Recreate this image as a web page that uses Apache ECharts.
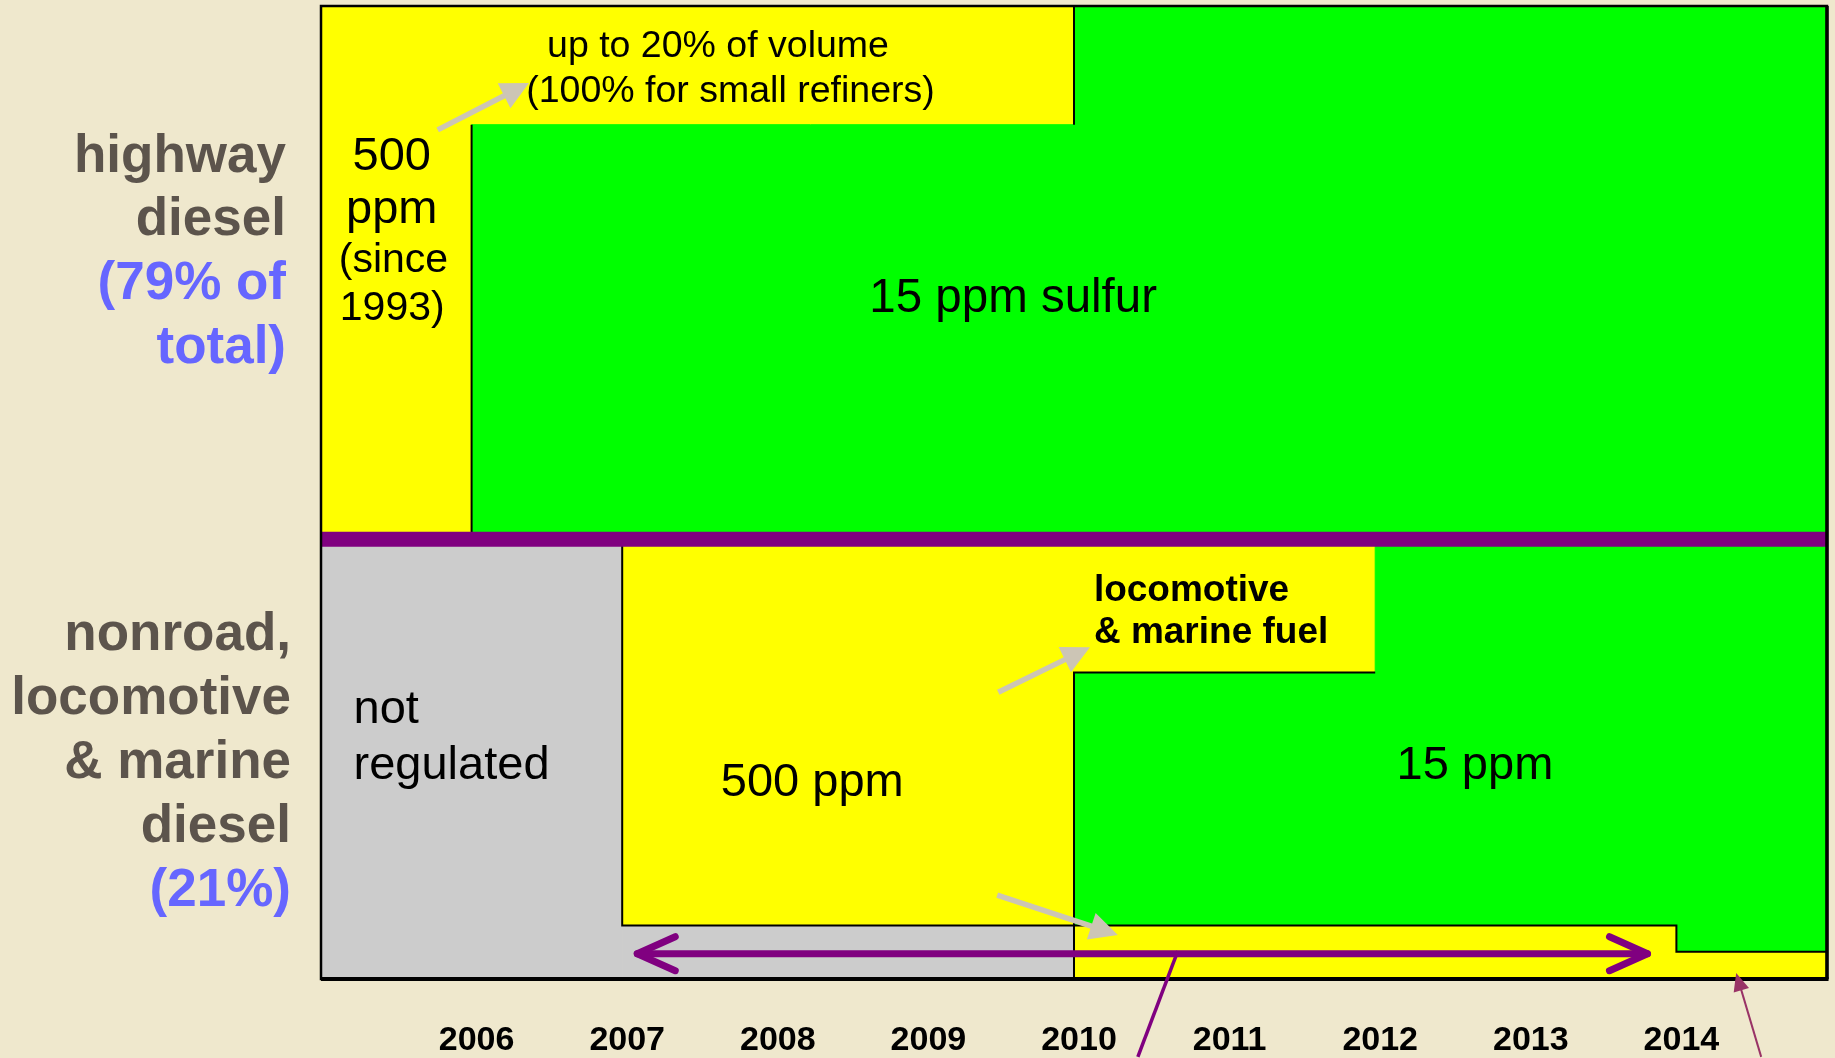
<!DOCTYPE html>
<html><head><meta charset="utf-8">
<script src="https://cdn.jsdelivr.net/npm/echarts@6/dist/echarts.min.js"></script>
<style>html,body{margin:0;padding:0;background:#efe8cd;} #c{width:1835px;height:1058px;}</style>
</head><body><div id="c"></div>
<script>
// ================= DATA =================
// Year tick labels (each label sits on the start of that year)
const yearTicks = [2006, 2007, 2008, 2009, 2010, 2011, 2012, 2013, 2014];
const xRange = [2005, 2015];

// Vertical axis is a schematic 0 (bottom) .. 100 (top) scale; split between the two fuel lanes
const laneSplit = 45.2;
const highwayLines = ['highway', 'diesel'];
const highwayShare = ['(79% of', 'total)'];
const nonroadLines = ['nonroad,', 'locomotive', '& marine', 'diesel'];
const nonroadShare = ['(21%)'];

// Sulfur-limit blocks: level, start year, end year, low, high
const blockLevel = ['500', '500', '15', '15', 'none', 'none', '500', '500', '15', '15', '15', '500', '500'];
const blockFrom  = [2005, 2006, 2006, 2010, 2005, 2007, 2007, 2010, 2010, 2014, 2012, 2010, 2014];
const blockTo    = [2006, 2010, 2015, 2015, 2007, 2010, 2010, 2012, 2014, 2015, 2015, 2014, 2015];
const blockLow   = [45.2, 87.8, 45.2, 87.8, 0, 0, 5.5, 31.5, 5.5, 2.8, 31.5, 0, 0];
const blockHigh  = [100, 100, 87.8, 100, 45.2, 5.5, 45.2, 45.2, 31.5, 31.5, 45.2, 5.5, 2.8];

// Black boundary lines between regimes
const outlineX = [[2006, 2006], [2010, 2010], [2007, 2007, 2014, 2014, 2015], [2010, 2010, 2012]];
const outlineY = [[45.2, 87.8], [87.8, 100], [45.2, 5.5, 5.5, 2.8, 2.8], [0, 31.5, 31.5]];

// Pointer arrows (from -> to), in axis units
const pointerFrom = [[2005.775, 87.27], [2009.497, 29.47], [2009.490, 8.62]];
const pointerTo   = [[2006.381, 92.09], [2010.106, 34.09], [2010.291, 4.52]];
const spanArrow   = [[2007.10, 2.6], [2013.808, 2.6]];
const calloutLine = [[2010.689, 2.87], [2010.424, -8]];
const calloutArrow = [[2014.563, -8], [2014.397, 0.62]];

// Annotation texts (x, baseline y in axis units)
const noteText = ['up to 20% of volume', '(100% for small refiners)', '500', 'ppm', '(since', '1993)',
  '15 ppm sulfur', 'locomotive', '& marine fuel', 'not', 'regulated', '500 ppm', '15 ppm'];
const noteX = [2007.636, 2007.719, 2005.470, 2005.470, 2005.481, 2005.473,
  2009.596, 2010.132, 2010.132, 2005.216, 2005.216, 2008.262, 2012.662];
const noteY = [94.76, 90.14, 83.16, 77.72, 72.69, 67.76,
  68.58, 38.81, 34.5, 26.28, 20.53, 18.79, 20.53];

// ================= STYLE =================
const FONT = '"Liberation Sans", Arial, sans-serif';
const levelColor = { '500': '#ffff00', '15': '#00ff00', 'none': '#cccccc' };
const noteSize = [37.5, 37.5, 47, 47, 41, 41, 47.5, 37, 37, 47, 47, 47, 47];
const noteBold = [0, 0, 0, 0, 0, 0, 0, 1, 1, 0, 0, 0, 0];
const noteAlign = ['center', 'center', 'center', 'center', 'center', 'center',
  'center', 'left', 'left', 'left', 'left', 'center', 'center'];
const K = 0.28; // baseline -> middle offset (fraction of font size)

function head(tip, from, len, half) {
  const dx = tip[0] - from[0], dy = tip[1] - from[1];
  const d = Math.hypot(dx, dy), ux = dx / d, uy = dy / d;
  const bx = tip[0] - ux * len, by = tip[1] - uy * len;
  return [[tip[0], tip[1]], [bx - uy * half, by + ux * half], [bx + uy * half, by - ux * half]];
}
function chevron(tip, from, len, half) {
  const dx = tip[0] - from[0], dy = tip[1] - from[1];
  const d = Math.hypot(dx, dy), ux = dx / d, uy = dy / d;
  const bx = tip[0] - ux * len, by = tip[1] - uy * len;
  return [[bx - uy * half, by + ux * half], [tip[0], tip[1]], [bx + uy * half, by - ux * half]];
}

const chart = echarts.init(document.getElementById('c'), null, { renderer: 'canvas' });

const laneText = [];
function addLane(lines, shareLines, right, firstBaseline, step) {
  const all = lines.concat(shareLines);
  all.forEach((t, i) => {
    laneText.push({
      type: 'text', x: right, y: firstBaseline + i * step - K * 53,
      style: {
        text: t, font: 'bold 53px ' + FONT, fill: i < lines.length ? '#5c544c' : '#6666ff',
        textAlign: 'right', textVerticalAlign: 'middle', align: 'right', verticalAlign: 'middle'
      }
    });
  });
}
addLane(highwayLines, highwayShare, 286, 172, 63.7);
addLane(nonroadLines, nonroadShare, 291, 650, 64);

const option = {
  backgroundColor: '#efe8cd',
  animation: false,
  grid: { left: 321, right: 4, top: 6, bottom: 78, show: false },
  xAxis: {
    type: 'value', min: xRange[0], max: xRange[1], interval: 1,
    axisLine: { show: false }, axisTick: { show: false }, splitLine: { show: false },
    axisLabel: {
      margin: 45, fontSize: 34, lineHeight: 34, fontWeight: 'bold', color: '#000', fontFamily: FONT,
      padding: [0, 0, 0, 10],
      formatter: v => yearTicks.indexOf(v) >= 0 ? String(v) : ''
    }
  },
  yAxis: { type: 'value', min: 0, max: 100, show: false },
  graphic: laneText,
  series: [
    {
      type: 'custom', z: 1, clip: false,
      data: blockFrom.map((f, i) => [f, blockTo[i], blockLow[i], blockHigh[i]]),
      encode: { x: [0, 1], y: [2, 3] },
      renderItem: (params, api) => {
        const p0 = api.coord([api.value(0), api.value(3)]);
        const p1 = api.coord([api.value(1), api.value(2)]);
        const c = levelColor[blockLevel[params.dataIndex]];
        return { type: 'rect', shape: { x: p0[0], y: p0[1], width: p1[0] - p0[0], height: p1[1] - p0[1] },
          style: { fill: c, stroke: c, lineWidth: 1 } };
      }
    },
    {
      type: 'custom', z: 2, clip: false,
      data: outlineX.map((xs, i) => [xs[0], outlineY[i][0]]),
      renderItem: (params, api) => {
        const i = params.dataIndex;
        const pts = outlineX[i].map((x, k) => api.coord([x, outlineY[i][k]]));
        return { type: 'polyline', shape: { points: pts }, style: { stroke: '#000', lineWidth: 2, fill: null } };
      }
    },
    {
      type: 'line', z: 3, symbol: 'none', silent: true,
      data: [[xRange[0], laneSplit], [xRange[1], laneSplit]],
      lineStyle: { color: '#800080', width: 15, cap: 'butt' }
    },
    {
      // plot frame, from the axis extents
      type: 'custom', z: 4, clip: false,
      data: [[xRange[0], 0]],
      renderItem: (params, api) => {
        const a = api.coord([xRange[0], 100]);
        const b = api.coord([xRange[1], 0]);
        return { type: 'group', children: [
          { type: 'rect', shape: { x: a[0], y: a[1], width: b[0] - a[0], height: b[1] - a[1] },
            style: { fill: null, stroke: '#000', lineWidth: 2.5 } },
          { type: 'line', shape: { x1: a[0], y1: b[1], x2: b[0] + 1.5, y2: b[1] }, style: { stroke: '#000', lineWidth: 4 } },
          { type: 'line', shape: { x1: b[0], y1: a[1], x2: b[0], y2: b[1] }, style: { stroke: '#000', lineWidth: 3.5 } }
        ] };
      }
    },
    {
      // gray pointer arrows
      type: 'custom', z: 5, clip: false,
      data: pointerFrom.map(p => p.slice()),
      renderItem: (params, api) => {
        const i = params.dataIndex;
        const f = api.coord(pointerFrom[i]);
        const t = api.coord(pointerTo[i]);
        const h = head(t, f, 28, 14);
        const dx = t[0] - f[0], dy = t[1] - f[1], d = Math.hypot(dx, dy);
        const e = [t[0] - dx / d * 24, t[1] - dy / d * 24];
        return { type: 'group', children: [
          { type: 'line', shape: { x1: f[0], y1: f[1], x2: e[0], y2: e[1] }, style: { stroke: '#ccc5b5', lineWidth: 5.5 } },
          { type: 'polygon', shape: { points: h }, style: { fill: '#ccc5b5' } }
        ] };
      }
    },
    {
      // purple phase-in span, callout lines
      type: 'custom', z: 6, clip: false,
      data: [spanArrow[0].slice()],
      renderItem: (params, api) => {
        const a = api.coord(spanArrow[0]);
        const b = api.coord(spanArrow[1]);
        const c0 = api.coord(calloutLine[0]);
        const c1 = api.coord(calloutLine[1]);
        const m0 = api.coord(calloutArrow[0]);
        const m1 = api.coord(calloutArrow[1]);
        const dx = m1[0] - m0[0], dy = m1[1] - m0[1], d = Math.hypot(dx, dy);
        const me = [m1[0] - dx / d * 14, m1[1] - dy / d * 14];
        const st = { stroke: '#800080', lineWidth: 7, lineCap: 'round', lineJoin: 'round', fill: null };
        return { type: 'group', children: [
          { type: 'line', shape: { x1: a[0], y1: a[1], x2: b[0], y2: b[1] }, style: st },
          { type: 'polyline', shape: { points: chevron(a, b, 38, 17) }, style: st },
          { type: 'polyline', shape: { points: chevron(b, a, 38, 17) }, style: st },
          { type: 'line', shape: { x1: c0[0], y1: c0[1], x2: c1[0], y2: c1[1] }, style: { stroke: '#800080', lineWidth: 3.5 } },
          { type: 'line', shape: { x1: m0[0], y1: m0[1], x2: me[0], y2: me[1] }, style: { stroke: '#993366', lineWidth: 2 } },
          { type: 'polygon', shape: { points: head(m1, m0, 18, 8) }, style: { fill: '#993366' } }
        ] };
      }
    },
    {
      // annotation texts
      type: 'custom', z: 7, clip: false,
      data: noteX.map((x, i) => [x, noteY[i]]),
      renderItem: (params, api) => {
        const i = params.dataIndex;
        const p = api.coord([api.value(0), api.value(1)]);
        const fs = noteSize[i];
        return { type: 'text', x: p[0], y: p[1] - K * fs,
          style: { text: noteText[i], font: (noteBold[i] ? 'bold ' : '') + fs + 'px ' + FONT, fill: '#000',
            textAlign: noteAlign[i], textVerticalAlign: 'middle', align: noteAlign[i], verticalAlign: 'middle' } };
      }
    }
  ]
};
chart.setOption(option);
</script>
</body></html>
